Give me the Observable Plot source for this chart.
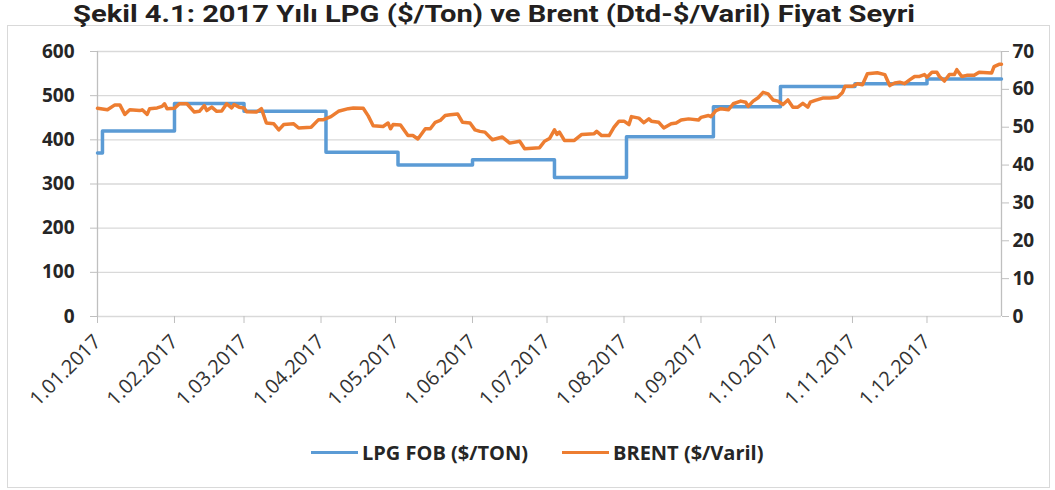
<!DOCTYPE html>
<html><head><meta charset="utf-8">
<script src="https://cdn.jsdelivr.net/npm/d3@7"></script>
<script src="https://cdn.jsdelivr.net/npm/@observablehq/plot@0.6"></script>
<style>
body{margin:0;background:#fff;font-family:"Open Sans",sans-serif;}
#wrap{position:relative;width:1055px;height:490px;overflow:hidden;background:#fff}
#frame{position:absolute;left:7px;top:25px;width:1043px;height:463px;border:1px solid #d9d9d9;box-sizing:border-box}
#title{position:absolute;left:73px;top:0px;height:28px;line-height:28px;font-family:Roboto,sans-serif;font-weight:700;font-size:24px;color:#231f20;white-space:nowrap;transform-origin:0 0}
#chart{position:absolute;left:0;top:26px}
.leg{position:absolute;top:439px;font-weight:700;font-size:20px;color:#262626;white-space:nowrap;display:flex;align-items:center}
.sw{display:inline-block;width:47px;height:3.5px;margin-right:4px}
</style></head>
<body><div id="wrap"><div id="frame"></div><div id="title"></div><div id="chart"></div>
<div class="leg" style="left:311px"><span class="sw" style="background:#5B9BD5"></span><span id="l1"></span></div>
<div class="leg" style="left:562px"><span class="sw" style="background:#ED7D31"></span><span id="l2"></span></div>
</div>
<script>
const titleText = "Şekil 4.1: 2017 Yılı LPG ($/Ton) ve Brent (Dtd-$/Varil) Fiyat Seyri";
const seriesNames = ["LPG FOB ($/TON)", "BRENT ($/Varil)"];

// month tick positions and labels
const monthDates = ["2017-01-01","2017-02-01","2017-03-01","2017-04-01","2017-05-01","2017-06-01","2017-07-01","2017-08-01","2017-09-01","2017-10-01","2017-11-01","2017-12-01"];
const monthLabels = ["1.01.2017","1.02.2017","1.03.2017","1.04.2017","1.05.2017","1.06.2017","1.07.2017","1.08.2017","1.09.2017","1.10.2017","1.11.2017","1.12.2017"];
const leftTicks = [0,100,200,300,400,500,600];
const rightTicks = [0,10,20,30,40,50,60,70];

// LPG FOB ($/Ton) - price change dates and values (step series)
const lpgDates = ["2017-01-01","2017-01-03","2017-02-01","2017-03-01","2017-04-03","2017-05-02","2017-06-01","2017-07-04","2017-08-02","2017-09-06","2017-10-03","2017-11-02","2017-12-01","2017-12-31"];
const lpgValues = [370,420,482,465,372,343,355,315,407,475,521,527,538,538];

// Brent ($/Varil)
const brentDates = ["2017-01-01","2017-01-05","2017-01-08","2017-01-10","2017-01-12","2017-01-14","2017-01-18","2017-01-19","2017-01-21","2017-01-22","2017-01-25","2017-01-27","2017-01-28","2017-01-29",
"2017-02-01","2017-02-03","2017-02-06","2017-02-09","2017-02-11","2017-02-13","2017-02-14","2017-02-16","2017-02-18","2017-02-20","2017-02-22","2017-02-24","2017-02-25","2017-02-27",
"2017-03-01","2017-03-02","2017-03-06","2017-03-08","2017-03-10","2017-03-13","2017-03-15","2017-03-17","2017-03-21","2017-03-23","2017-03-28","2017-03-31",
"2017-04-02","2017-04-05","2017-04-08","2017-04-12","2017-04-14","2017-04-18","2017-04-20","2017-04-22","2017-04-26","2017-04-28","2017-04-29","2017-04-30",
"2017-05-03","2017-05-06","2017-05-08","2017-05-10","2017-05-13","2017-05-15","2017-05-17","2017-05-19","2017-05-21","2017-05-23","2017-05-26","2017-05-28","2017-05-31",
"2017-06-02","2017-06-04","2017-06-06","2017-06-09","2017-06-13","2017-06-16","2017-06-20","2017-06-22","2017-06-28","2017-06-30",
"2017-07-02","2017-07-04","2017-07-05","2017-07-06","2017-07-08","2017-07-12","2017-07-15","2017-07-20","2017-07-21","2017-07-23","2017-07-26","2017-07-28","2017-07-30",
"2017-08-01","2017-08-03","2017-08-04","2017-08-07","2017-08-09","2017-08-11","2017-08-12","2017-08-15","2017-08-17","2017-08-20","2017-08-22","2017-08-24","2017-08-27","2017-08-31",
"2017-09-01","2017-09-04","2017-09-05","2017-09-07","2017-09-09","2017-09-12","2017-09-14","2017-09-17","2017-09-19","2017-09-20","2017-09-22","2017-09-24","2017-09-26","2017-09-28","2017-09-30",
"2017-10-02","2017-10-04","2017-10-06","2017-10-08","2017-10-10","2017-10-12","2017-10-14","2017-10-15","2017-10-17","2017-10-20","2017-10-23","2017-10-26","2017-10-28","2017-10-29",
"2017-11-01","2017-11-03","2017-11-05","2017-11-07","2017-11-11","2017-11-14","2017-11-16","2017-11-18","2017-11-20","2017-11-22","2017-11-24","2017-11-26","2017-11-28","2017-11-30",
"2017-12-01","2017-12-03","2017-12-05","2017-12-06","2017-12-08","2017-12-10","2017-12-12","2017-12-13","2017-12-15","2017-12-17","2017-12-20","2017-12-22","2017-12-27","2017-12-28","2017-12-30","2017-12-31"];
const brentValues = [55.0,54.6,55.9,55.9,53.4,54.6,54.4,54.6,53.4,54.9,55.1,55.5,56.2,54.9,
55.0,56.2,56.2,54.0,54.2,55.7,54.4,55.3,54.2,54.3,56.2,55.1,56.0,55.3,
55.1,54.1,54.0,54.9,51.1,50.9,49.3,50.7,50.9,49.8,50.0,52.0,
52.0,52.8,54.2,54.9,55.1,55.0,53.0,50.4,50.2,51.1,49.6,50.7,
50.6,47.8,47.8,46.9,49.6,49.6,51.3,51.8,53.1,53.3,53.5,51.3,51.1,
49.3,48.9,48.7,46.7,47.4,45.8,46.3,44.3,44.6,46.3,
47.0,49.3,48.1,48.7,46.5,46.5,48.1,48.3,48.9,47.8,47.8,50.0,51.6,
51.6,50.7,52.8,52.4,51.2,52.2,51.6,51.3,49.8,50.9,51.1,51.9,52.2,51.9,
52.6,53.1,52.8,54.4,54.9,54.6,56.2,56.9,56.6,55.5,56.9,57.8,59.2,58.8,57.2,
56.9,56.0,57.2,55.3,55.3,56.3,55.3,56.6,57.1,57.7,57.7,57.9,59.2,60.8,
60.8,61.5,61.2,64.1,64.4,63.9,61.0,61.7,61.9,61.5,62.5,63.4,63.4,63.9,
63.2,64.5,64.5,63.4,62.2,63.9,63.9,65.2,63.4,63.7,63.7,64.5,64.3,66.0,66.6,66.6];

const k = 600 / 70; // right-axis mapping onto left scale
const lpg = lpgDates.map((d, i) => ({date: new Date(d), v: lpgValues[i]}));
const brent = brentDates.map((d, i) => ({date: new Date(d), v: brentValues[i] * k}));
const months = monthDates.map(d => new Date(d));
const x0 = new Date("2017-01-01"), x1 = new Date("2017-12-31");

document.getElementById("title").textContent = titleText;
document.getElementById("l1").textContent = seriesNames[0];
document.getElementById("l2").textContent = seriesNames[1];

const chart = Plot.plot({
  width: 1055, height: 400,
  marginTop: 25, marginBottom: 110, marginLeft: 97, marginRight: 54,
  style: {fontFamily: "'Open Sans', sans-serif", color: "#262626", background: "transparent"},
  x: {type: "utc", domain: [x0, x1]},
  y: {domain: [0, 600]},
  marks: [
    Plot.gridY(leftTicks, {stroke: "#d9d9d9", strokeOpacity: 1, strokeWidth: 1.3}),
    Plot.ruleX([x0], {stroke: "#bfbfbf", strokeWidth: 1.3, y1: 0, y2: 600}),
    Plot.ruleX([x1], {stroke: "#bfbfbf", strokeWidth: 1.3, y1: 0, y2: 600}),
    Plot.axisY(leftTicks, {anchor: "left", tickSize: 7, tickPadding: 16, fontSize: 19, fontWeight: 700, stroke: "#bfbfbf", fill: "#262626", label: null}),
    Plot.axisY(rightTicks.map(v => v * k), {anchor: "right", tickSize: 7, tickPadding: 4, fontSize: 19, fontWeight: 700, stroke: "#bfbfbf", fill: "#262626", tickFormat: d => String(Math.round(d / k)), label: null}),
    Plot.axisX(months, {tickSize: 7, tickPadding: 15, tickRotate: -45, fontSize: 20, stroke: "#bfbfbf", fill: "#333333", tickFormat: (d, i) => monthLabels[i], label: null}),
    Plot.line(lpg, {x: "date", y: "v", curve: "step-after", stroke: "#5B9BD5", strokeWidth: 3.5}),
    Plot.line(brent, {x: "date", y: "v", stroke: "#ED7D31", strokeWidth: 3.5})
  ]
});
document.getElementById("chart").appendChild(chart);

const t = document.getElementById("title");
const w = t.getBoundingClientRect().width;
t.style.transform = `scaleX(${842 / w})`;
</script>
</body></html>
